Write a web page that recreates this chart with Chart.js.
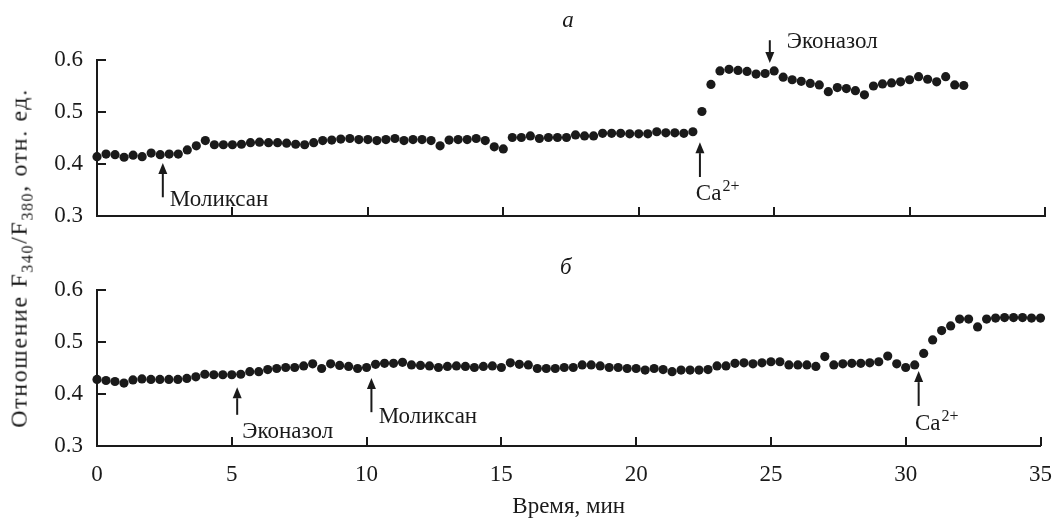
<!DOCTYPE html>
<html>
<head>
<meta charset="utf-8">
<script src="https://cdn.jsdelivr.net/npm/chart.js@4.4.0/dist/chart.umd.min.js"></script>
<style>
  body { margin: 0; background: #fff; width: 1059px; height: 518px; overflow: hidden; position: relative; color: #1a1a1a; }
  #topBox { position: absolute; left: 0; top: 0; }
  #botBox { position: absolute; left: 0; top: 232px; }
  #yTitle { position: absolute; left: 21px; top: 258px; transform: translate(-50%, -50%) rotate(-90deg); white-space: nowrap; font-family: "Liberation Serif", "Times New Roman", serif; font-size: 24px; letter-spacing: 1.6px; }
  #yTitle sub { font-size: 16px; }
</style>
</head>
<body>
<div id="botBox"><canvas id="chartB" width="1059" height="286"></canvas></div>
<div id="topBox"><canvas id="chartA" width="1059" height="256"></canvas></div>
<div id="yTitle">Отношение F<sub>340</sub>/F<sub>380</sub>, отн. ед.</div>
<script>
// sampling interval, minutes (20 s)
const TIME_STEP = 1 / 3;

const xTicks = [0, 5, 10, 15, 20, 25, 30, 35];
const yTicks = [0.3, 0.4, 0.5, 0.6];

// panel a
const ratioA = [
  0.414, 0.419, 0.418, 0.413, 0.417, 0.414, 0.421, 0.418, 0.419, 0.419,
  0.427, 0.435, 0.445, 0.437, 0.437, 0.437, 0.438, 0.441, 0.442, 0.441,
  0.441, 0.440, 0.438, 0.437, 0.441, 0.445, 0.446, 0.448, 0.449, 0.447,
  0.447, 0.445, 0.447, 0.449, 0.445, 0.447, 0.447, 0.445, 0.435, 0.446,
  0.447, 0.447, 0.449, 0.445, 0.433, 0.429, 0.451, 0.451, 0.454, 0.449,
  0.451, 0.451, 0.451, 0.456, 0.454, 0.454, 0.459, 0.459, 0.459, 0.458,
  0.458, 0.458, 0.462, 0.460, 0.460, 0.459, 0.462, 0.501, 0.553, 0.579,
  0.582, 0.580, 0.578, 0.573, 0.574, 0.579, 0.567, 0.562, 0.559, 0.555,
  0.552, 0.539, 0.547, 0.545, 0.541, 0.533, 0.550, 0.554, 0.556, 0.558,
  0.562, 0.568, 0.563, 0.558, 0.568, 0.552, 0.551
];

// panel б
const ratioB = [
  0.428, 0.426, 0.424, 0.421, 0.427, 0.429, 0.428, 0.428, 0.428, 0.428,
  0.430, 0.433, 0.438, 0.437, 0.437, 0.437, 0.438, 0.443, 0.443, 0.447,
  0.449, 0.451, 0.451, 0.454, 0.458, 0.449, 0.458, 0.455, 0.453, 0.449,
  0.451, 0.457, 0.459, 0.459, 0.461, 0.456, 0.455, 0.454, 0.451, 0.453,
  0.454, 0.453, 0.451, 0.453, 0.454, 0.451, 0.460, 0.457, 0.456, 0.449,
  0.449, 0.449, 0.451, 0.451, 0.456, 0.456, 0.454, 0.451, 0.451, 0.449,
  0.449, 0.446, 0.449, 0.447, 0.443, 0.446, 0.446, 0.446, 0.447, 0.454,
  0.454, 0.459, 0.460, 0.458, 0.460, 0.462, 0.462, 0.456, 0.456, 0.456,
  0.453, 0.472, 0.456, 0.458, 0.459, 0.459, 0.460, 0.462, 0.473, 0.458,
  0.451, 0.456, 0.478, 0.504, 0.522, 0.531, 0.544, 0.544, 0.529, 0.544,
  0.546, 0.547, 0.547, 0.547, 0.546, 0.546
];

// arrows: t = time of arrow, tip/tail in ratio units, label at (tx, ty)
const notesA = [
  { text: 'Моликсан', t: 2.43, tip: 0.402, tail: 0.336, tx: 2.69, ty: 0.319 },
  { text: 'Ca', sup: '2+', t: 22.26, tip: 0.442, tail: 0.375, tx: 22.11, ty: 0.331 },
  { text: 'Эконазол', t: 24.84, tip: 0.594, tail: 0.638, tx: 25.47, ty: 0.623 }
];
const notesB = [
  { text: 'Эконазол', t: 5.2, tip: 0.413, tail: 0.360, tx: 5.39, ty: 0.315 },
  { text: 'Моликсан', t: 10.18, tip: 0.431, tail: 0.365, tx: 10.45, ty: 0.345 },
  { text: 'Ca', sup: '2+', t: 30.48, tip: 0.444, tail: 0.377, tx: 30.34, ty: 0.331 }
];

const INK = '#1a1a1a';
const FONT = '"Liberation Serif", "Times New Roman", serif';
const FS = 23;

function drawArrow(ctx, x, y0, y1) {
  const dir = y1 > y0 ? 1 : -1;
  const head = 11;
  ctx.beginPath();
  ctx.moveTo(x, y0);
  ctx.lineTo(x, y1 - dir * head);
  ctx.stroke();
  ctx.beginPath();
  ctx.moveTo(x, y1);
  ctx.lineTo(x - 4.5, y1 - dir * head);
  ctx.lineTo(x + 4.5, y1 - dir * head);
  ctx.closePath();
  ctx.fill();
}

function decor(letter, letterGap, notes) {
  return {
    id: 'decor',
    afterDraw(chart) {
      const { ctx, chartArea: a } = chart;
      const x = chart.scales.x, y = chart.scales.y;
      ctx.save();
      ctx.strokeStyle = INK;
      ctx.fillStyle = INK;
      ctx.lineWidth = 2;
      // inward tick marks
      ctx.beginPath();
      yTicks.forEach(v => {
        const py = Math.round(y.getPixelForValue(v));
        ctx.moveTo(a.left, py);
        ctx.lineTo(a.left + 9, py);
      });
      xTicks.forEach(v => {
        const px = Math.round(x.getPixelForValue(v));
        ctx.moveTo(px, a.bottom);
        ctx.lineTo(px, a.bottom - 9);
      });
      ctx.stroke();

      ctx.font = 'italic ' + FS + 'px ' + FONT;
      ctx.textAlign = 'center';
      ctx.textBaseline = 'alphabetic';
      ctx.fillText(letter, (a.left + a.right) / 2 - 3, a.top - letterGap);

      ctx.textAlign = 'left';
      notes.forEach(n => {
        const px = x.getPixelForValue(n.t);
        drawArrow(ctx, px, y.getPixelForValue(n.tail), y.getPixelForValue(n.tip));
        const lx = x.getPixelForValue(n.tx), ly = y.getPixelForValue(n.ty);
        ctx.font = FS + 'px ' + FONT;
        ctx.fillText(n.text, lx, ly);
        if (n.sup) {
          const w = ctx.measureText(n.text).width;
          ctx.font = '16px ' + FONT;
          ctx.fillText(n.sup, lx + w + 1, ly - 9);
        }
      });
      ctx.restore();
    }
  };
}

function makeChart(id, values, plugin, o) {
  return new Chart(document.getElementById(id), {
    type: 'scatter',
    data: {
      datasets: [{
        data: values.map((v, i) => ({ x: i * TIME_STEP, y: v })),
        pointRadius: 4.6,
        pointBackgroundColor: INK,
        pointBorderWidth: 0,
        showLine: false,
        clip: false
      }]
    },
    options: {
      responsive: false,
      animation: false,
      layout: { padding: { top: o.top, right: 14, left: 0, bottom: 0 } },
      plugins: { legend: { display: false }, tooltip: { enabled: false } },
      scales: {
        x: {
          type: 'linear', min: 0, max: 35,
          afterBuildTicks: s => { s.ticks = xTicks.map(v => ({ value: v })); },
          afterFit: s => { s.height = o.xHeight; },
          grid: { display: false },
          border: { color: INK, width: 2 },
          ticks: { display: o.xLabels, autoSkip: false, maxRotation: 0, padding: 7, color: INK, font: { family: FONT, size: FS } },
          title: { display: o.xLabels, text: 'Время, мин', color: INK, padding: { top: 0, bottom: 0 }, font: { family: FONT, size: FS, lineHeight: 1 } }
        },
        y: {
          min: 0.3, max: 0.6,
          afterBuildTicks: s => { s.ticks = yTicks.map(v => ({ value: v })); },
          afterFit: s => { s.width = 97; },
          grid: { display: false },
          border: { color: INK, width: 2 },
          ticks: { padding: 6, color: INK, font: { family: FONT, size: FS }, callback: v => v.toFixed(1) }
        }
      }
    },
    plugins: [plugin]
  });
}

makeChart('chartA', ratioA, decor('а', 33, notesA), { top: 60, xHeight: 40, xLabels: false });
makeChart('chartB', ratioB, decor('б', 16, notesB), { top: 58, xHeight: 72, xLabels: true });
</script>
</body>
</html>
